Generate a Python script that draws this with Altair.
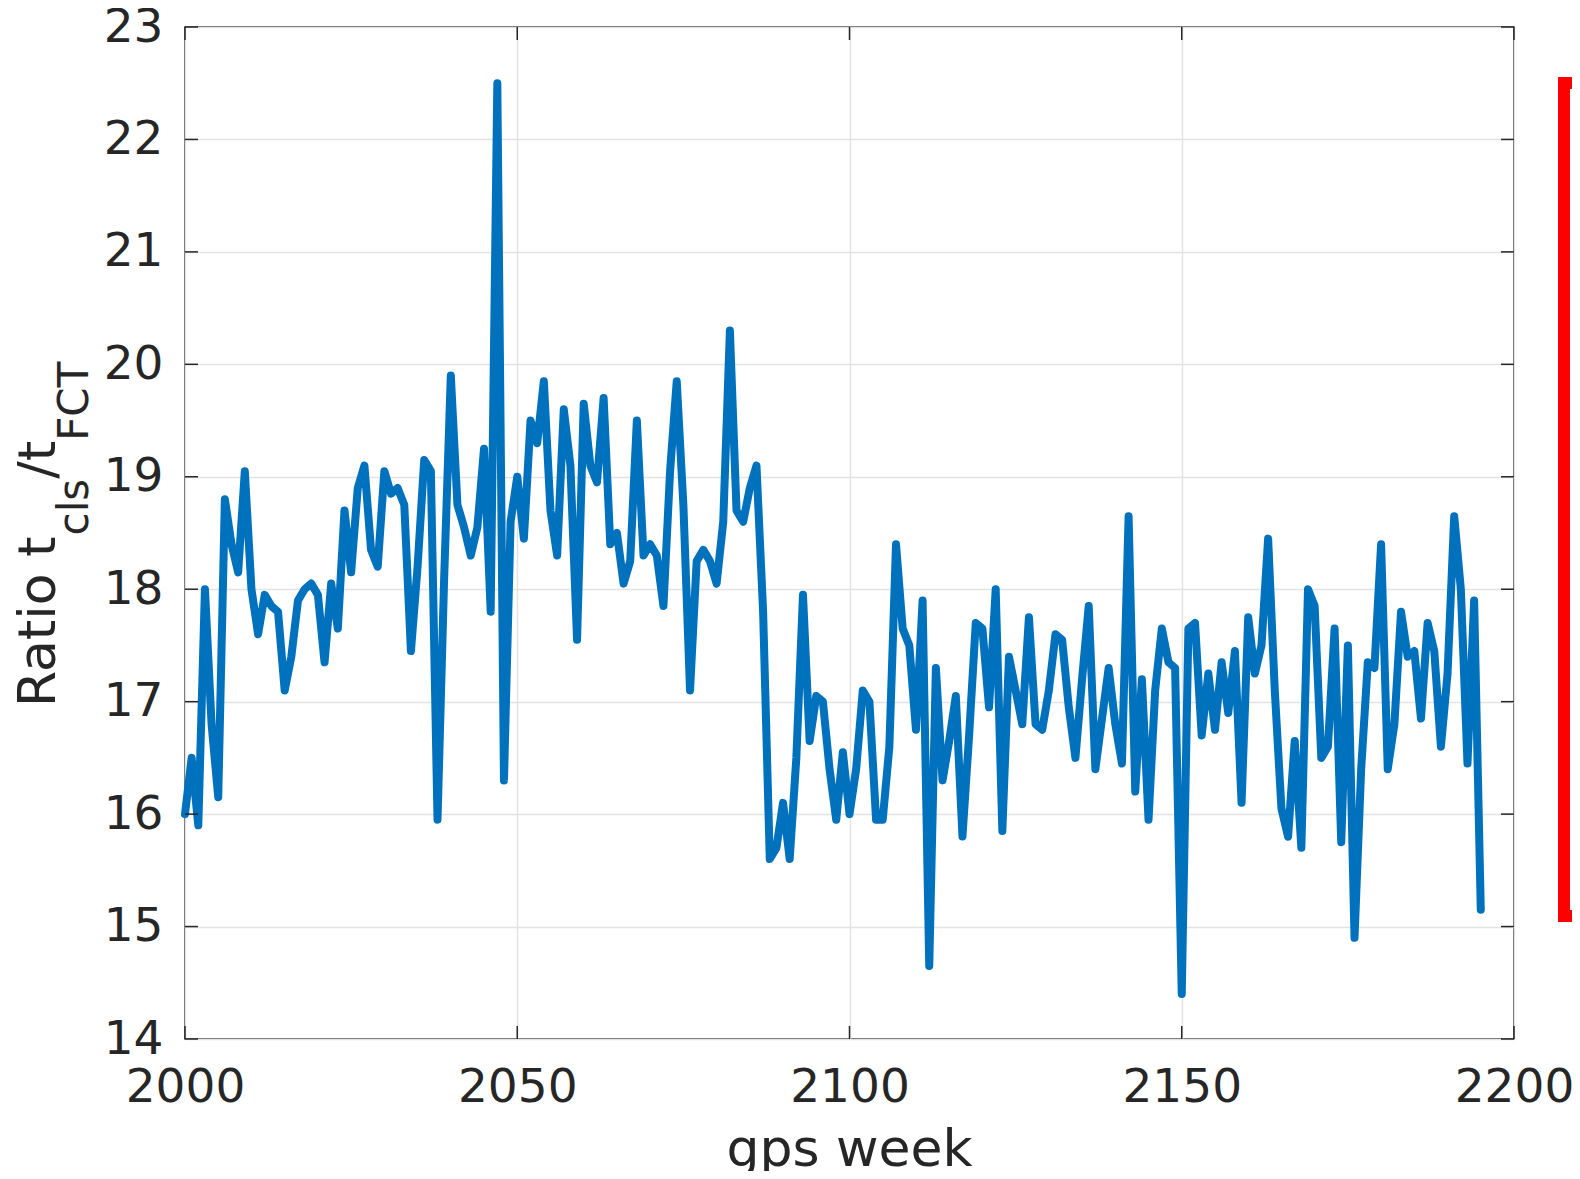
import altair as alt
import pandas as pd

weeks = list(range(2000, 2196))
ratio = [
    16.0, 16.5, 15.9, 18.0, 16.8, 16.15, 18.8, 18.4, 18.15, 19.05,
    18.0, 17.6, 17.95, 17.85, 17.8, 17.1, 17.4, 17.9, 18.0, 18.05,
    17.95, 17.35, 18.05, 17.65, 18.7, 18.15, 18.9, 19.1, 18.35, 18.2,
    19.05, 18.85, 18.9, 18.75, 17.45, 18.2, 19.15, 19.05, 15.95, 18.1,
    19.9, 18.75, 18.55, 18.3, 18.55, 19.25, 17.8, 22.5, 16.3, 18.6,
    19.0, 18.45, 19.5, 19.3, 19.85, 18.7, 18.3, 19.6, 19.1, 17.55,
    19.65, 19.1, 18.95, 19.7, 18.4, 18.5, 18.05, 18.25, 19.5, 18.3,
    18.4, 18.3, 17.85, 19.05, 19.85, 18.75, 17.1, 18.25, 18.35, 18.25,
    18.05, 18.6, 20.3, 18.7, 18.6, 18.9, 19.1, 17.8, 15.6, 15.7,
    16.1, 15.6, 16.5, 17.95, 16.65, 17.05, 17.0, 16.4, 15.95, 16.55,
    16.0, 16.4, 17.1, 17.0, 15.95, 15.95, 16.6, 18.4, 17.65, 17.5,
    16.75, 17.9, 14.65, 17.3, 16.3, 16.65, 17.05, 15.8, 16.7, 17.7,
    17.65, 16.95, 18.0, 15.85, 17.4, 17.1, 16.8, 17.75, 16.8, 16.75,
    17.1, 17.6, 17.55, 16.95, 16.5, 17.2, 17.85, 16.4, 16.85, 17.3,
    16.8, 16.45, 18.65, 16.2, 17.2, 15.95, 17.1, 17.65, 17.35, 17.3,
    14.4, 17.65, 17.7, 16.7, 17.25, 16.75, 17.35, 16.9, 17.45, 16.1,
    17.75, 17.25, 17.5, 18.45, 17.1, 16.05, 15.8, 16.65, 15.7, 18.0,
    17.85, 16.5, 16.6, 17.65, 15.75, 17.5, 14.9, 16.4, 17.35, 17.3,
    18.4, 16.4, 16.8, 17.8, 17.4, 17.45, 16.85, 17.7, 17.45, 16.6,
    17.25, 18.65, 18.0, 16.45, 17.9, 15.15,
]
x_ticks = [2000, 2050, 2100, 2150, 2200]
y_ticks = [14, 15, 16, 17, 18, 19, 20, 21, 22, 23]

W, H = 1329, 1012
FONT = "DejaVu Sans"
INK = "#262626"
TICK = 13

df = pd.DataFrame({"week": weeks, "ratio": ratio})
xt = pd.DataFrame({"t": x_ticks})
yt = pd.DataFrame({"t": y_ticks})

xscale = alt.Scale(domain=[2000, 2200], nice=False)
yscale = alt.Scale(domain=[14, 23], nice=False)

x_axis = alt.Axis(values=x_ticks, format="d", grid=True, gridColor="#e3e3e3", gridWidth=1.5,
                  ticks=False, tickSize=0, domain=False, labelFont=FONT, labelFontSize=47,
                  labelColor=INK, labelPadding=25, title=None, labelFlush=False)
y_axis = alt.Axis(values=y_ticks, format="d", grid=True, gridColor="#e3e3e3", gridWidth=1.5,
                  ticks=False, tickSize=0, domain=False, labelFont=FONT, labelFontSize=47,
                  labelColor=INK, labelPadding=22, title=None, labelFlush=False)

line = alt.Chart(df).mark_line(color="#0072BD", strokeWidth=8, strokeJoin="round",
                               strokeCap="round").encode(
    x=alt.X("week:Q", scale=xscale, axis=x_axis),
    y=alt.Y("ratio:Q", scale=yscale, axis=y_axis),
)

rule_style = dict(color=INK, strokeWidth=1.5)
xb = alt.Chart(xt).mark_rule(**rule_style).encode(
    x=alt.X("t:Q", scale=xscale), y=alt.value(H), y2=alt.value(H - TICK))
xtop = alt.Chart(xt).mark_rule(**rule_style).encode(
    x=alt.X("t:Q", scale=xscale), y=alt.value(0), y2=alt.value(TICK))
yl = alt.Chart(yt).mark_rule(**rule_style).encode(
    y=alt.Y("t:Q", scale=yscale), x=alt.value(0), x2=alt.value(TICK))
yr = alt.Chart(yt).mark_rule(**rule_style).encode(
    y=alt.Y("t:Q", scale=yscale), x=alt.value(W - TICK), x2=alt.value(W))

one = pd.DataFrame({"a": [0]})

def txt(s, x, y, size, angle=0, align="left"):
    return alt.Chart(one).mark_text(text=s, font=FONT, fontSize=size, color=INK,
                                    angle=angle, align=align, baseline="alphabetic").encode(
        x=alt.value(x), y=alt.value(y))

MAIN, SUB = 52, 42
y0 = 680
y1 = y0 - 3.300 * MAIN
y2 = y1 - 1.349 * SUB
y3 = y2 - 0.729 * MAIN
ytitle = (txt("Ratio t", -130, y0, MAIN, 270) + txt("cls", -97, y1, SUB, 270)
          + txt("/t", -130, y2, MAIN, 270) + txt("FCT", -97, y3, SUB, 270))

xtitle = txt("gps week", W / 2, 1139, 52, 0, "center")

red = alt.Chart(one).mark_rect(fillOpacity=0, stroke="#ff0000", strokeWidth=12).encode(
    x=alt.value(1379), x2=alt.value(1500), y=alt.value(56), y2=alt.value(889))

chart = alt.layer(line, xb, xtop, yl, yr, ytitle, xtitle, red).properties(
    width=W, height=H,
    autosize=alt.AutoSizeParams(type="none"),
    padding={"left": 177, "top": 19, "right": 58, "bottom": 132},
).configure_view(stroke=INK, strokeWidth=1.5)

chart.save("out.html", embed_options={"renderer": "svg", "actions": False})
